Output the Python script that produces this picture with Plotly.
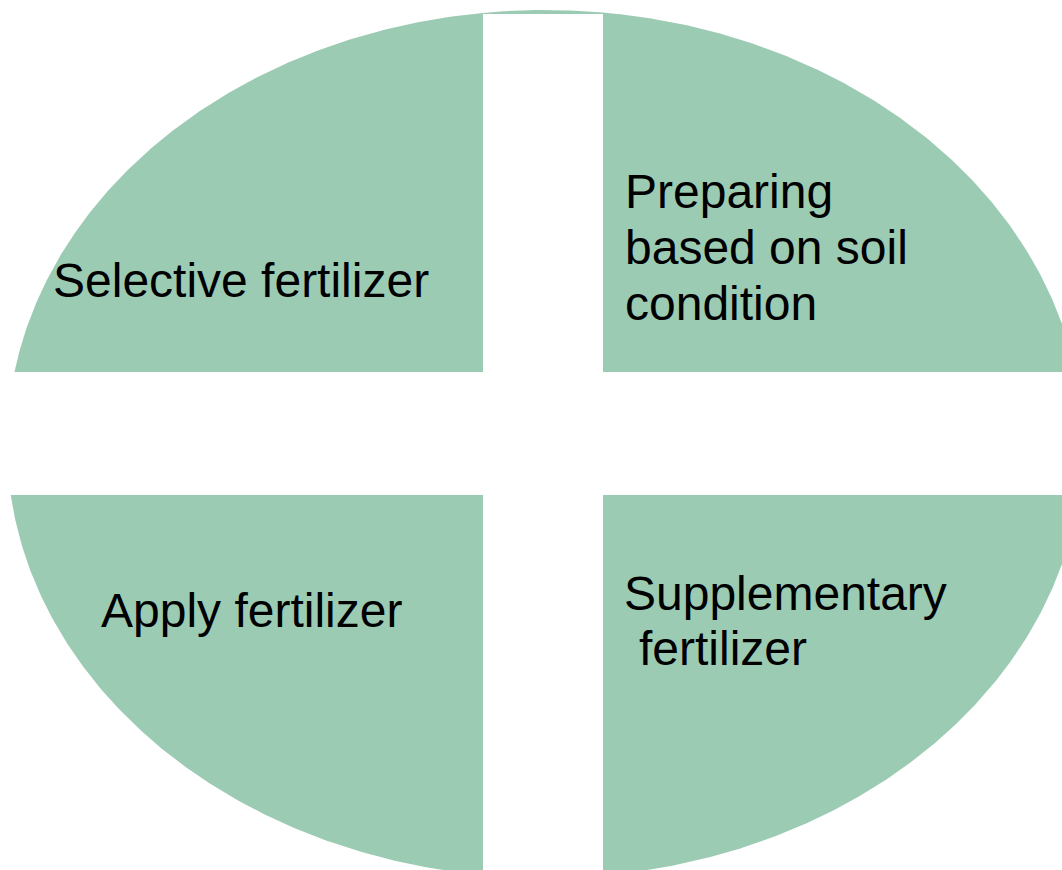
import numpy as np
import plotly.graph_objects as go

# Diagram content
quadrants = ["top-left", "top-right", "bottom-left", "bottom-right"]

label_lines = [
    ["Selective fertilizer"],
    ["Preparing", "based on soil", "condition"],
    ["Apply fertilizer"],
    ["Supplementary", "fertilizer"],
]
label_x = [[51], [623, 623, 623], [99], [622, 637]]
label_base = [[294], [205, 261, 317], [624], [607, 662]]

FILL = "rgb(156,203,180)"
W, H = 1062, 870
cx, cy, a, b = 545, 444, 538, 434
gx0, gx1 = 483, 603   # vertical white band
gy0, gy1 = 372, 495   # horizontal white band
band_top = 14         # thin sliver of ellipse above the vertical band


def quad_poly(sx, sy):
    xin = gx0 if sx < 0 else gx1
    yin = gy0 if sy < 0 else gy1
    tx = np.arccos((xin - cx) / a)
    ty = np.arcsin((cy - yin) / b)
    if sx < 0 and sy < 0:
        t0, t1 = tx, np.pi - ty
    elif sx > 0 and sy < 0:
        t0, t1 = ty, tx
    elif sx < 0 and sy > 0:
        t0, t1 = np.pi - ty, 2 * np.pi - tx
    else:
        t0, t1 = -tx, ty
    t = np.linspace(t0, t1, 200)
    xs = list(cx + a * np.cos(t)) + [xin]
    ys = list(cy - b * np.sin(t)) + [yin]
    xs.append(xs[0]); ys.append(ys[0])
    return xs, ys


def top_sliver():
    t0 = np.arccos((gx1 - cx) / a)
    t1 = np.arccos((gx0 - cx) / a)
    t = np.linspace(t0, t1, 60)
    xs = list(cx + a * np.cos(t)) + [gx0, gx1]
    ys = list(cy - b * np.sin(t)) + [band_top, band_top]
    xs.append(xs[0]); ys.append(ys[0])
    return xs, ys


fig = go.Figure()
for name, (sx, sy) in zip(quadrants, [(-1, -1), (1, -1), (-1, 1), (1, 1)]):
    xs, ys = quad_poly(sx, sy)
    fig.add_trace(go.Scatter(x=xs, y=ys, mode="lines", fill="toself", fillcolor=FILL,
                             line=dict(width=0, color=FILL), hoverinfo="skip", name=name,
                             showlegend=False))
xs, ys = top_sliver()
fig.add_trace(go.Scatter(x=xs, y=ys, mode="lines", fill="toself", fillcolor=FILL,
                         line=dict(width=0, color=FILL), hoverinfo="skip", showlegend=False))

for lines, xs, bs in zip(label_lines, label_x, label_base):
    for txt, x, base in zip(lines, xs, bs):
        fig.add_annotation(x=x, y=base - 14, text=txt, showarrow=False,
                           xanchor="left", yanchor="middle",
                           font=dict(family="Liberation Sans, Arial", size=48, color="black"))

fig.update_layout(
    width=W, height=H, margin=dict(l=0, r=0, t=0, b=0),
    paper_bgcolor="white", plot_bgcolor="white",
    xaxis=dict(range=[0, W], visible=False, fixedrange=True),
    yaxis=dict(range=[H, 0], visible=False, fixedrange=True),
    hovermode=False,
)
fig.write_html("out.html", config={"displayModeBar": False, "staticPlot": True},
               post_script="document.body.style.margin='0';document.body.style.overflow='hidden';")
